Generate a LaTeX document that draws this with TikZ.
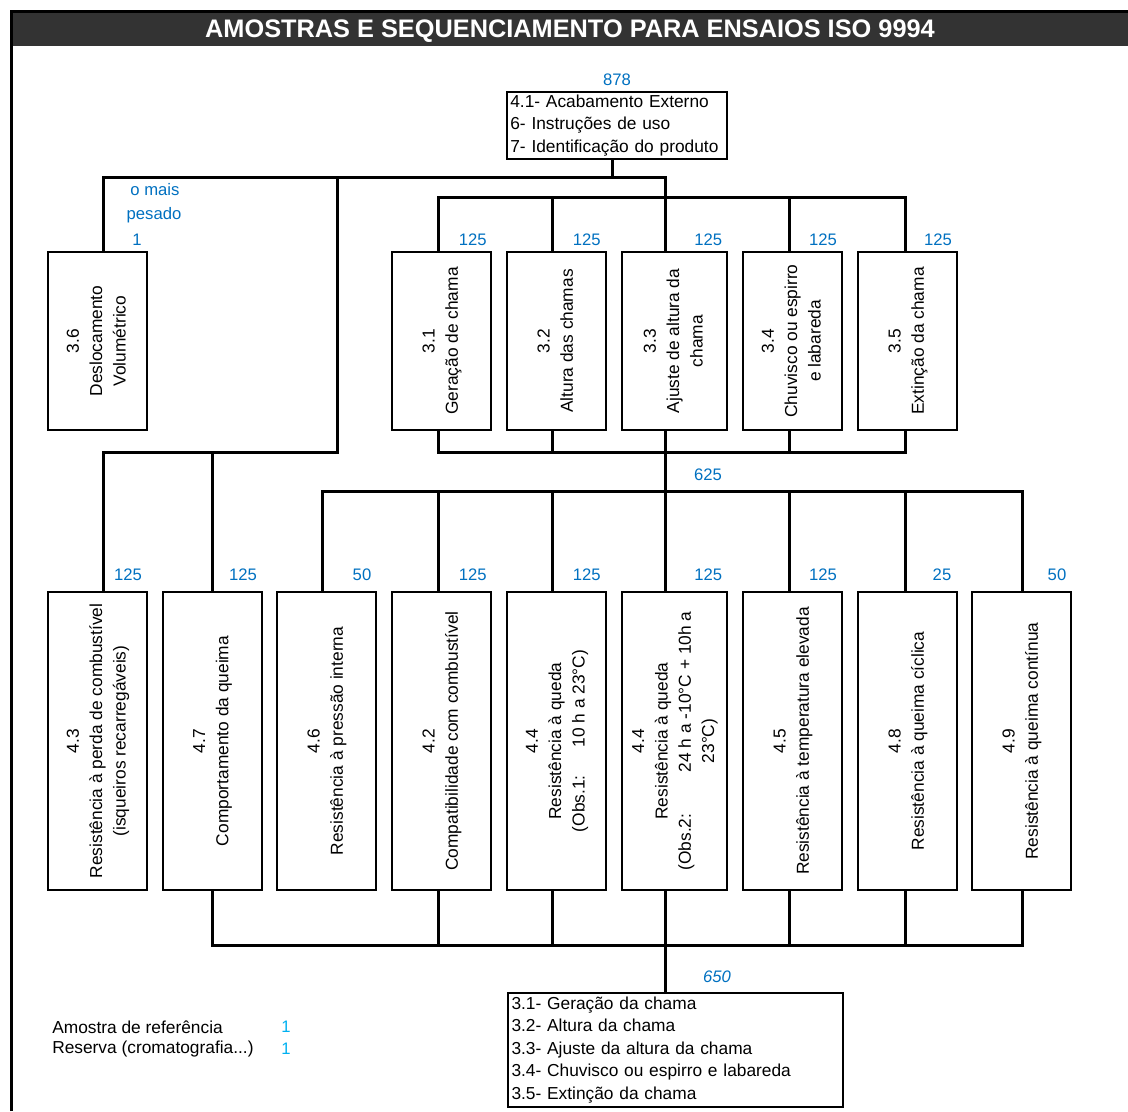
\documentclass[tikz,border=0pt]{standalone}
\usepackage{fontspec}
\setmainfont{Liberation Sans}
\usepackage{graphicx}
\usetikzlibrary{positioning,calc}
\tikzset{>=latex}
\definecolor{numblue}{RGB}{0,112,192}
\definecolor{refblue}{RGB}{0,176,240}
\definecolor{barcolor}{RGB}{51,51,51}
\newcommand{\boxfont}{\fontsize{13}{17.5}\selectfont}
\newcommand{\listfont}{\fontsize{13}{16.9}\selectfont}
\newcommand{\numfont}{\fontsize{12.5}{15}\selectfont}
\newcommand{\uptext}[1]{\rotatebox{90}{\begin{tabular}{@{}c@{}}#1\end{tabular}}}
\tikzset{
	box/.style={draw, line width=1.5pt, inner sep=0pt, font=\boxfont},
	tallbox/.style={box, minimum width=74.25pt, minimum height=223.5pt},
	shortbox/.style={box, minimum width=74.25pt, minimum height=133.5pt},
	num/.style={text=numblue, font=\numfont, inner sep=0pt},
	wire/.style={line width=2.25pt, line cap=rect},
}

\begin{document}
\begin{tikzpicture}[x=0.75pt,y=-0.75pt]
	\useasboundingbox (0,0) rectangle (1128,1111);
	% title bar
	\fill[barcolor] (11,11) rectangle (1128,46);
	\draw[line width=2.25pt] (11,1111) -- (11,11) -- (1128,11);
	\node[text=white, font=\fontsize{19}{22}\selectfont\bfseries] (title) at (570,31) {AMOSTRAS E SEQUENCIAMENTO PARA ENSAIOS ISO 9994};

	% list boxes
	\node[box, minimum width=165pt, minimum height=50.25pt, text width=160pt, align=left, font=\listfont] (acab) at (617,125.5) {4.1- Acabamento Externo\\6- Instruções de uso\\7- Identificação do produto};
	\node[box, minimum width=251.25pt, minimum height=85.5pt, text width=246pt, align=left, font=\listfont] (final) at (675.5,1050) {3.1- Geração da chama\\3.2- Altura da chama\\3.3- Ajuste da altura da chama\\3.4- Chuvisco ou espirro e labareda\\3.5- Extinção da chama};

	% first row
	\node[shortbox] (b36) at (97.5,341) {\uptext{3.6\\Deslocamento\\Volumétrico}};
	\node[shortbox] (b31) at (441.5,341) {\uptext{3.1\\Geração de chama}};
	\node[shortbox] (b32) at (556.5,341) {\uptext{3.2\\Altura das chamas}};
	\node[shortbox, minimum width=78.75pt] (b33) at (674.5,341) {\uptext{3.3\\Ajuste de altura da\\chama}};
	\node[shortbox] (b34) at (792.5,341) {\uptext{3.4\\Chuvisco ou espirro\\e labareda}};
	\node[shortbox] (b35) at (907.5,341) {\uptext{3.5\\Extinção da chama}};

	% second row
	\node[tallbox] (b43) at (97.5,741) {\uptext{4.3\\Resistência à perda de combustível\\(isqueiros recarregáveis)}};
	\node[tallbox] (b47) at (212,741) {\uptext{4.7\\Comportamento da queima}};
	\node[tallbox] (b46) at (326.5,741) {\uptext{4.6\\Resistência à pressão interna}};
	\node[tallbox] (b42) at (441.5,741) {\uptext{4.2\\Compatibilidade com combustível}};
	\node[tallbox] (b44) at (556.5,741) {\uptext{4.4\\Resistência à queda\\(Obs.1:\hspace{1.6em}10 h a 23°C)}};
	\node[tallbox, minimum width=78.75pt] (b44b) at (674.5,741) {\uptext{4.4\\Resistência à queda\\(Obs.2:\hspace{2.4em}24 h a -10°C + 10h a\\23°C)}};
	\node[tallbox] (b45) at (792.5,741) {\uptext{4.5\\Resistência à temperatura elevada}};
	\node[tallbox] (b48) at (907.5,741) {\uptext{4.8\\Resistência à queima cíclica}};
	\node[tallbox] (b49) at (1021.5,741) {\uptext{4.9\\Resistência à queima contínua}};

	% sample counts
	\node[num] (total) at (617,80) {878};
	\node[num] (pes1) at (155,190) {o mais};
	\node[num] (pes2) at (154,215) {pesado};
	\node[num] (pes3) at (137,240) {1};
	\foreach \x/\t [count=\i] in {472.7/125, 586.7/125, 708.3/125, 823/125, 938/125}
		\node[num] (up\i) at (\x,240) {\t};
	\foreach \x/\t [count=\i] in {128/125, 243/125, 362/50, 472.7/125, 586.7/125, 708.3/125, 823/125, 942/25, 1057/50}
		\node[num] (low\i) at (\x,575) {\t};
	\node[num] (mid) at (708,475) {625};
	\node[num, font=\numfont\itshape] (back) at (717,977) {650};

	% legend
	\node[anchor=west, font=\boxfont, inner sep=0pt] (ref) at (52,1027) {Amostra de referência};
	\node[anchor=west, font=\boxfont, inner sep=0pt] (res) at (52,1049) {Reserva (cromatografia...)};
	\node[num, text=refblue] (refn) at (286,1027) {1};
	\node[num, text=refblue] (resn) at (286,1049) {1};

	% columns and levels of the connectors
	\coordinate (cA) at (103,0);
	\coordinate (cB) at (212,0);
	\coordinate (cC) at (322,0);
	\coordinate (cD) at (438,0);
	\coordinate (cE) at (552,0);
	\coordinate (cF) at (665,0);
	\coordinate (cG) at (789,0);
	\coordinate (cH) at (905,0);
	\coordinate (cI) at (1022,0);
	\coordinate (cL) at (337,0);
	\coordinate (cT) at (612,0);
	\coordinate (yA) at (0,177);
	\coordinate (yB) at (0,197);
	\coordinate (yC) at (0,452);
	\coordinate (yE) at (0,491);
	\coordinate (yF) at (0,945);

	\draw[wire] (cT |- acab.south) -- (cT |- yA);
	\draw[wire] (cA |- yA) -- (cF |- yA);
	\draw[wire] (cA |- yA) -- (cA |- b36.north);
	\draw[wire] (cL |- yA) -- (cL |- yC) -- (cA |- yC) -- (cA |- b43.north);
	\draw[wire] (cB |- yC) -- (cB |- b47.north);
	\draw[wire] (cF |- yA) -- (cF |- b33.north);
	\draw[wire] (cD |- yB) -- (cH |- yB);
	\foreach \c/\n in {cD/b31, cE/b32, cG/b34, cH/b35}
		\draw[wire] (\c |- yB) -- (\c |- \n.north);
	\draw[wire] (cD |- yC) -- (cH |- yC);
	\foreach \c/\n in {cD/b31, cE/b32, cG/b34, cH/b35}
		\draw[wire] (\c |- \n.south) -- (\c |- yC);
	\draw[wire] (cF |- b33.south) -- (cF |- b44b.north);
	\draw[wire] (cC |- yE) -- (cI |- yE);
	\foreach \c/\n in {cC/b46, cD/b42, cE/b44, cG/b45, cH/b48, cI/b49}
		\draw[wire] (\c |- yE) -- (\c |- \n.north);
	% back to the final tests
	\draw[wire] (cB |- yF) -- (cI |- yF);
	\foreach \c/\n in {cB/b47, cD/b42, cE/b44, cF/b44b, cG/b45, cH/b48, cI/b49}
		\draw[wire] (\c |- \n.south) -- (\c |- yF);
	\draw[wire] (cF |- yF) -- (cF |- final.north);
\end{tikzpicture}
\end{document}
